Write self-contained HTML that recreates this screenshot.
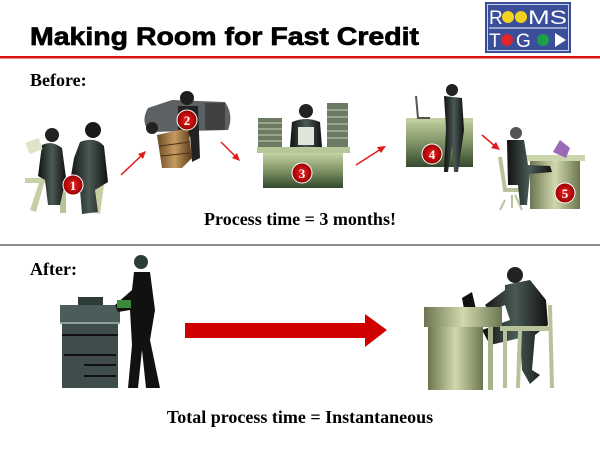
<!DOCTYPE html>
<html><head><meta charset="utf-8"><style>
html,body{margin:0;padding:0;background:#fff;}
svg{display:block;}
</style></head><body>
<svg width="600" height="450" viewBox="0 0 600 450" xmlns="http://www.w3.org/2000/svg">
<defs>
<linearGradient id="dk" x1="0" x2="1"><stop offset="0" stop-color="#111"/><stop offset="0.5" stop-color="#4a5a55"/><stop offset="1" stop-color="#111"/></linearGradient>
<linearGradient id="gd" x1="0" x2="0" y1="0" y2="1"><stop offset="0" stop-color="#c6d3a2"/><stop offset="0.5" stop-color="#7f9466"/><stop offset="1" stop-color="#334a2e"/></linearGradient>
<linearGradient id="gd2" x1="0" x2="1"><stop offset="0" stop-color="#6b7650"/><stop offset="0.5" stop-color="#d2d8ad"/><stop offset="1" stop-color="#6b7650"/></linearGradient>
<linearGradient id="br" x1="0" x2="1"><stop offset="0" stop-color="#6a4a25"/><stop offset="0.5" stop-color="#c79a60"/><stop offset="1" stop-color="#5a3a1a"/></linearGradient>
<radialGradient id="rc"><stop offset="0" stop-color="#e22"/><stop offset="1" stop-color="#900"/></radialGradient>
</defs>
<!-- title -->
<text x="30" y="45" font-family="Liberation Sans, sans-serif" font-weight="bold" font-size="25" textLength="389" lengthAdjust="spacingAndGlyphs" stroke="#000" stroke-width="0.7">Making Room for Fast Credit</text>
<!-- logo -->
<rect x="485" y="2" width="86" height="51" fill="#3b4e9a"/>
<rect x="487.5" y="4.5" width="81" height="46" fill="none" stroke="#c8d0ea" stroke-width="1"/>
<text x="489" y="24" font-family="Liberation Sans, sans-serif" font-size="19" fill="#fff">R</text>
<circle cx="508" cy="17" r="6" fill="#f2d21a"/><circle cx="521" cy="17" r="6" fill="#f2d21a"/>
<text x="528" y="24" font-family="Liberation Sans, sans-serif" font-size="19" fill="#fff" textLength="39" lengthAdjust="spacingAndGlyphs">MS</text>
<line x1="489" y1="28" x2="567" y2="28" stroke="#fff" stroke-width="1"/>
<text x="489" y="47" font-family="Liberation Sans, sans-serif" font-size="19" fill="#fff">T</text>
<circle cx="507" cy="40" r="6" fill="#e0262c"/>
<text x="516" y="47" font-family="Liberation Sans, sans-serif" font-size="19" fill="#fff">G</text>
<circle cx="543" cy="40" r="6" fill="#1aa04a"/>
<polygon points="555,33 566,40 555,47" fill="#fff"/>
<rect x="0" y="56" width="600" height="2.5" fill="#d81010"/>
<text x="30" y="86" font-family="Liberation Serif, serif" font-weight="bold" font-size="18">Before:</text>

<!-- fig 1 -->
<rect x="25" y="178" width="75" height="5" fill="#c7d3a6"/>
<rect x="60" y="183" width="6" height="30" fill="#b6c497"/>
<path d="M30 210 L40 180 L45 180 L36 212Z M90 212 L96 185 L104 185 L100 214Z" fill="#c5cfa3"/>
<circle cx="52" cy="135" r="7" fill="#222"/>
<path d="M42 145 Q52 140 62 148 L66 178 L60 205 L48 205 L45 180 L38 176Z" fill="url(#dk)"/>
<rect x="27" y="140" width="14" height="12" fill="#dfe4c8" transform="rotate(-20 34 146)"/>
<circle cx="93" cy="130" r="8" fill="#1a1a1a"/>
<path d="M80 142 Q95 136 104 146 L108 182 L95 190 L98 212 L82 214 L80 190 L70 182 L74 158Z" fill="url(#dk)"/>
<!-- fig 2 truck -->
<path d="M148 108 L172 100 L225 102 Q234 115 228 130 L150 132 Q140 122 148 108Z" fill="#5d6164"/>
<circle cx="152" cy="128" r="6" fill="#222"/>
<rect x="205" y="103" width="20" height="27" fill="#3f4143"/>
<circle cx="187" cy="98" r="7" fill="#1f1f1f"/>
<path d="M178 106 L198 106 L200 158 L192 162 L190 135 L185 160 L178 160Z" fill="#222"/>
<path d="M157 135 L188 128 L192 158 L182 168 L162 168Z" fill="url(#br)"/>
<line x1="160" y1="146" x2="190" y2="142" stroke="#4a3018" stroke-width="1"/>
<line x1="161" y1="156" x2="190" y2="153" stroke="#4a3018" stroke-width="1"/>
<!-- fig 3 -->
<rect x="258" y="118" width="24" height="29" fill="#6e7b64"/>
<rect x="327" y="103" width="21" height="44" fill="#6e7b64"/>
<g stroke="#c5cfb5" stroke-width="1">
<line x1="258" y1="123" x2="282" y2="123"/><line x1="258" y1="129" x2="282" y2="129"/><line x1="258" y1="135" x2="282" y2="135"/><line x1="258" y1="141" x2="282" y2="141"/>
<line x1="327" y1="110" x2="348" y2="110"/><line x1="327" y1="117" x2="348" y2="117"/><line x1="327" y1="124" x2="348" y2="124"/><line x1="327" y1="131" x2="348" y2="131"/><line x1="327" y1="138" x2="348" y2="138"/>
</g>
<circle cx="306" cy="111" r="7" fill="#222"/>
<path d="M292 122 Q306 116 320 122 L322 147 L290 147Z" fill="url(#dk)"/>
<rect x="298" y="127" width="16" height="18" fill="#dfe5d8"/>
<rect x="257" y="147" width="93" height="6" fill="#b8c79a"/>
<rect x="263" y="153" width="80" height="35" fill="url(#gd)"/>
<!-- fig 4 -->
<rect x="406" y="118" width="67" height="49" fill="url(#gd)"/>
<rect x="406" y="118" width="67" height="4" fill="#c2cfa0"/>
<path d="M416 96 L418 118 L430 118" stroke="#555" stroke-width="2" fill="none"/>
<circle cx="452" cy="90" r="6" fill="#222"/>
<path d="M444 96 L462 98 L464 130 L458 172 L454 172 L452 145 L448 172 L444 172 L446 128Z" fill="url(#dk)"/>
<!-- fig 5 -->
<rect x="524" y="155" width="61" height="6" fill="#ccd6ad"/>
<rect x="530" y="161" width="50" height="48" fill="url(#gd2)"/>
<path d="M553 152 L560 140 L570 148 L566 158Z" fill="#9a6ab8"/>
<path d="M500 157 L505 190 L525 190" stroke="#b8c39a" stroke-width="4" fill="none"/>
<path d="M505 200 L500 210 M515 195 L522 210 M512 195 L512 208" stroke="#b8c39a" stroke-width="2"/>
<circle cx="516" cy="133" r="6" fill="#555"/>
<path d="M507 140 L524 140 L528 165 L550 166 L552 172 L530 174 L527 205 L520 205 L518 185 L508 185Z" fill="url(#dk)"/>
<!-- small arrows -->
<g stroke="#e21a1a" stroke-width="1.5" fill="#e21a1a">
<line x1="121" y1="175" x2="142" y2="155"/><polygon points="146,151 138,154 143,159" stroke="none"/>
<line x1="221" y1="142" x2="236" y2="157"/><polygon points="240,161 232,158 237,153" stroke="none"/>
<line x1="356" y1="165" x2="381" y2="149"/><polygon points="386,146 377,147 381,153" stroke="none"/>
<line x1="482" y1="135" x2="496" y2="147"/><polygon points="500,150 491,148 496,142" stroke="none"/>
</g>
<!-- number circles -->
<g font-family="Liberation Serif, serif" font-weight="bold" font-size="13" fill="#fff" text-anchor="middle">
<circle cx="73" cy="185" r="10" fill="url(#rc)" stroke="#fff" stroke-width="1"/><text x="73" y="190">1</text>
<circle cx="187" cy="120" r="10" fill="url(#rc)" stroke="#fff" stroke-width="1"/><text x="187" y="125">2</text>
<circle cx="302" cy="173" r="10" fill="url(#rc)" stroke="#fff" stroke-width="1"/><text x="302" y="178">3</text>
<circle cx="432" cy="154" r="10" fill="url(#rc)" stroke="#fff" stroke-width="1"/><text x="432" y="159">4</text>
<circle cx="565" cy="193" r="10" fill="url(#rc)" stroke="#fff" stroke-width="1"/><text x="565" y="198">5</text>
</g>
<text x="300" y="225" text-anchor="middle" font-family="Liberation Serif, serif" font-weight="bold" font-size="18">Process time = 3 months!</text>
<rect x="0" y="244" width="600" height="2" fill="#8a8a8a"/>
<text x="30" y="275" font-family="Liberation Serif, serif" font-weight="bold" font-size="18">After:</text>

<!-- copier -->
<rect x="78" y="297" width="25" height="8" fill="#2c3a38"/>
<rect x="60" y="305" width="60" height="18" fill="#4c5c5a"/>
<rect x="62" y="323" width="56" height="65" fill="#3e4d4b"/>
<g stroke="#111" stroke-width="2"><line x1="62" y1="335" x2="118" y2="335"/><line x1="64" y1="355" x2="116" y2="355"/><line x1="84" y1="365" x2="116" y2="365"/><line x1="84" y1="376" x2="116" y2="376"/></g>
<rect x="60" y="322" width="60" height="2" fill="#8aa09a"/>
<!-- woman -->
<circle cx="141" cy="262" r="7" fill="#2a3d38"/>
<path d="M134 272 L150 272 L155 310 L150 340 L160 388 L146 388 L142 350 L138 388 L128 388 L132 345 L130 310 L118 312 L115 305 L132 290Z" fill="#111"/>
<rect x="117" y="300" width="14" height="8" fill="#3a8a3a"/>
<!-- big arrow -->
<polygon points="185,323 365,323 365,314 387,330 365,347 365,338 185,338" fill="#d10000"/>
<!-- desk person -->
<circle cx="515" cy="275" r="8" fill="#222"/>
<path d="M505 285 L530 280 L546 300 L548 325 L535 335 L532 370 L540 375 L530 384 L522 370 L520 338 L490 345 L482 330 L510 320 L505 305 L490 312 L485 305 L505 290Z" fill="url(#dk)"/>
<path d="M462 298 L472 292 L478 318 L466 320Z" fill="#111"/>
<rect x="424" y="307" width="78" height="20" fill="url(#gd2)"/>
<rect x="428" y="327" width="55" height="63" fill="url(#gd2)"/>
<rect x="488" y="327" width="5" height="63" fill="#a7b38a"/>
<path d="M505 330 L505 388 M550 305 L552 388 M520 330 L518 388" stroke="#b7c19a" stroke-width="4"/>
<rect x="500" y="326" width="50" height="5" fill="#b7c19a"/>
<text x="300" y="423" text-anchor="middle" font-family="Liberation Serif, serif" font-weight="bold" font-size="18">Total process time = Instantaneous</text>
</svg>
</body></html>
